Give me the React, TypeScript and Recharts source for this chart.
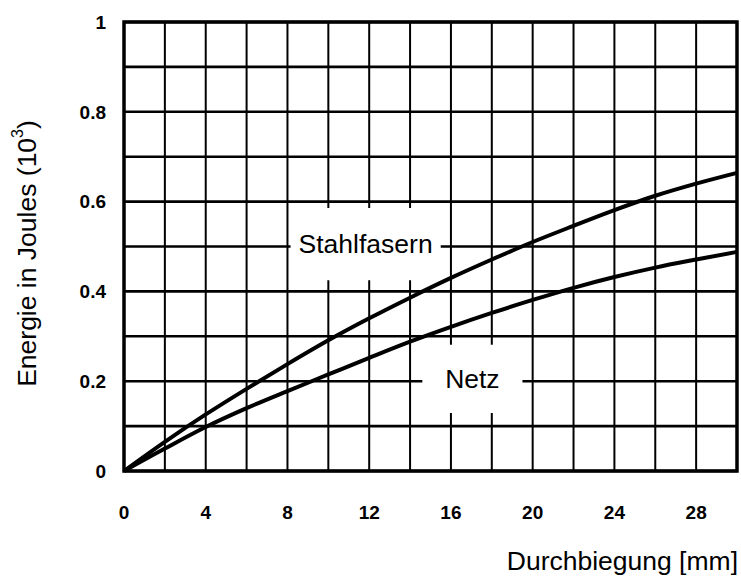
import React from 'react';
import { LineChart, Line, XAxis, YAxis, CartesianGrid, ReferenceArea } from 'recharts';

// Durchbiegung in mm (grid every 2 mm)
const deflection = [0, 2, 4, 6, 8, 10, 12, 14, 16, 18, 20, 22, 24, 26, 28, 30];
// Energie (10^3 J)
const steelFibre = [0, 0.065, 0.126, 0.183, 0.238, 0.291, 0.34, 0.386, 0.43, 0.471, 0.51, 0.546, 0.581, 0.613, 0.64, 0.664];
const mesh = [0, 0.05, 0.098, 0.14, 0.178, 0.215, 0.252, 0.288, 0.321, 0.352, 0.381, 0.408, 0.432, 0.453, 0.471, 0.488];

const xGridTicks = [0, 2, 4, 6, 8, 10, 12, 14, 16, 18, 20, 22, 24, 26, 28, 30];
const xLabelTicks = [0, 4, 8, 12, 16, 20, 24, 28];
const yGridTicks = [0, 0.1, 0.2, 0.3, 0.4, 0.5, 0.6, 0.7, 0.8, 0.9, 1];
const yLabelTicks = [0, 0.2, 0.4, 0.6, 0.8, 1];

const seriesNames = ['Stahlfasern', 'Netz'];

const data = deflection.map((x, i) => ({ x, steel: steelFibre[i], mesh: mesh[i] }));

const FONT = '"Liberation Sans", Arial, Helvetica, sans-serif';

const hasLabel = (list: number[], v: number) => list.some(l => Math.abs(l - v) < 1e-9);

// bold numeric tick, only drawn where the original has a label
const NumTick = ({ x, y, payload, labels, side }: any) => {
  const v = payload.value;
  if (!hasLabel(labels, v)) return null;
  return (
    <text
      x={x}
      y={y}
      dy={side === 'bottom' ? '0.71em' : '0.36em'}
      textAnchor={side === 'bottom' ? 'middle' : 'end'}
      fontSize={19}
      fontWeight={700}
      fontFamily={FONT}
      fill="#000"
    >
      {String(v)}
    </text>
  );
};

const YTitle = (props: any) => {
  const vb = props.viewBox || { x: 0, y: 22, width: 124, height: 449 };
  const cx = vb.x + 27;
  const cy = vb.y + vb.height / 2 + 7;
  return (
    <text
      x={cx}
      y={cy}
      transform={`rotate(-90 ${cx} ${cy})`}
      textAnchor="middle"
      dominantBaseline="central"
      fontSize={26.5}
      fontFamily={FONT}
      fill="#000"
    >
      Energie in Joules (10<tspan dy={-10} fontSize={16}>3</tspan><tspan dy={10}>)</tspan>
    </text>
  );
};

const XTitle = (props: any) => {
  const vb = props.viewBox || { x: 124, y: 471, width: 613, height: 108 };
  return (
    <text
      x={vb.x + vb.width + 1}
      y={vb.y + 99}
      textAnchor="end"
      fontSize={26.5}
      fontFamily={FONT}
      fill="#000"
    >
      Durchbiegung [mm]
    </text>
  );
};

export default function App() {
  return (
    <div style={{ position: 'absolute', left: 0, top: 0, background: '#fff' }}>
      <LineChart width={741} height={579} data={data} margin={{ top: 22, right: 4, bottom: 0, left: 0 }}>
        <CartesianGrid horizontal={false} stroke="#000" strokeWidth={2} strokeDasharray="" />
        <CartesianGrid vertical={false} stroke="#000" strokeWidth={2.6} strokeDasharray="" />
        <XAxis
          type="number"
          dataKey="x"
          domain={[0, 30]}
          ticks={xGridTicks}
          interval={0}
          tickLine={false}
          axisLine={false}
          tickSize={0}
          tickMargin={35}
          tick={<NumTick labels={xLabelTicks} side="bottom" />}
          height={108}
          label={<XTitle />}
        />
        <YAxis
          type="number"
          domain={[0, 1]}
          ticks={yGridTicks}
          interval={0}
          tickLine={false}
          axisLine={false}
          tickSize={0}
          tickMargin={18}
          tick={<NumTick labels={yLabelTicks} side="left" />}
          width={124}
          label={<YTitle />}
        />
        <ReferenceArea
          x1={8.15}
          x2={15.5}
          y1={0.425}
          y2={0.586}
          fill="#fff"
          fillOpacity={1}
          stroke="none"
          label={{ value: seriesNames[0], position: 'center', fontSize: 26.5, fill: '#000', fontFamily: FONT }}
        />
        <ReferenceArea
          x1={14.6}
          x2={19.5}
          y1={0.129}
          y2={0.281}
          fill="#fff"
          fillOpacity={1}
          stroke="none"
          label={{ value: seriesNames[1], position: 'center', fontSize: 26.5, fill: '#000', fontFamily: FONT }}
        />
        <ReferenceArea x1={0} x2={30} y1={0} y2={1} fill="none" stroke="#000" strokeWidth={3.5} />
        <Line
          type="monotone"
          dataKey="steel"
          name={seriesNames[0]}
          stroke="#000"
          strokeWidth={4}
          dot={false}
          isAnimationActive={false}
        />
        <Line
          type="monotone"
          dataKey="mesh"
          name={seriesNames[1]}
          stroke="#000"
          strokeWidth={4}
          dot={false}
          isAnimationActive={false}
        />
      </LineChart>
    </div>
  );
}
